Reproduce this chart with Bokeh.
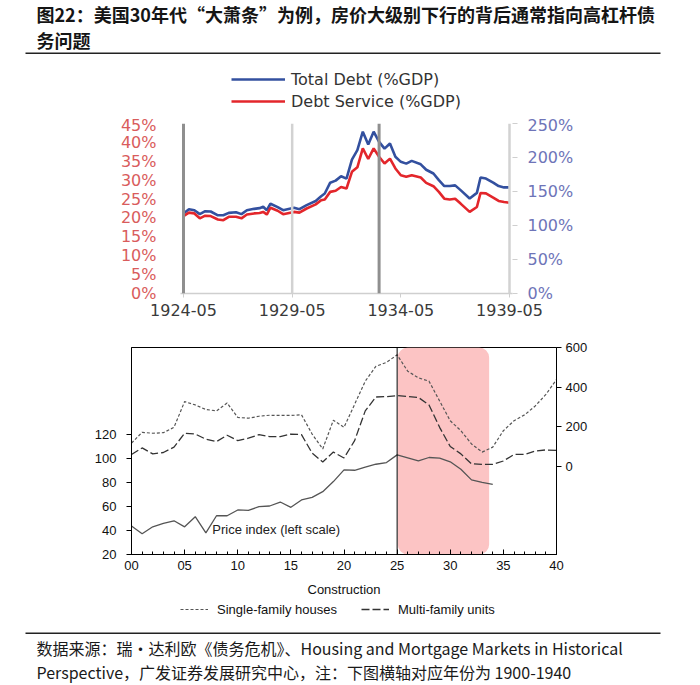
from bokeh.plotting import figure
from bokeh.layouts import column
from bokeh.models import (Range1d, LinearAxis, FixedTicker, Span, Legend, LegendItem,
                          Label, BoxAnnotation)
from bokeh.core.properties import value
from bokeh.embed import file_html
from bokeh.resources import INLINE

# ---------------- data ----------------
title_lines = ["图22：美国30年代“大萧条”为例，房价大级别下行的背后通常指向高杠杆债", "务问题"]
source_lines = ["数据来源：瑞·达利欧《债务危机》、Housing and Mortgage Markets in Historical",
                "Perspective，广发证券发展研究中心，注：下图横轴对应年份为 1900-1940"]

# top chart (Dalio): total debt (right axis, %GDP) and debt service (left axis, %GDP)
debt_dates = ["1924-05", "1924-08", "1924-11", "1925-02", "1925-05", "1925-08", "1925-12",
              "1926-03", "1926-06", "1926-10", "1927-01", "1927-04", "1927-08", "1927-11",
              "1928-01", "1928-03", "1928-05", "1928-09", "1928-12", "1929-06", "1929-09",
              "1930-01", "1930-06", "1930-09", "1930-11", "1931-02", "1931-05", "1931-08",
              "1931-11", "1932-02", "1932-05", "1932-08", "1932-11", "1933-02", "1933-05",
              "1933-08", "1933-11", "1934-02", "1934-05", "1934-08", "1934-11", "1935-04",
              "1935-07", "1935-11", "1936-02", "1936-05", "1936-08", "1936-11", "1937-02",
              "1937-07", "1937-11", "1938-01", "1938-04", "1938-08", "1938-11", "1939-02",
              "1939-05"]
total_debt = [117.6, 124, 122.5, 116.7, 121, 120.6, 115, 115, 118.6, 119.6, 116.7, 122.5,
              124.5, 125.5, 127.5, 122.5, 132, 127, 122.5, 126, 124, 130, 136, 143, 147,
              163, 166, 172.5, 169, 197, 211, 238, 219, 238, 223, 213, 220.6, 201, 193.6,
              191, 195, 190, 182, 176.5, 166.7, 158, 158, 159, 152, 139.7, 148, 170.6, 169,
              163, 158, 156, 156]
debt_service = [20.5, 21.4, 21.2, 19.9, 20.6, 20.5, 19.6, 19.4, 20.3, 20.3, 19.9, 20.9,
                21.2, 21.3, 21.6, 20.9, 22.7, 21.9, 21.0, 21.6, 21.4, 22.5, 23.6, 24.7, 24.9,
                26.9, 27.2, 28.2, 27.8, 32.2, 33.4, 38.4, 35.6, 38.4, 36.2, 34.4, 35.7, 33.1,
                31.3, 30.9, 31.3, 30.7, 29.3, 28.4, 26.9, 25.1, 24.9, 25.1, 23.8, 21.6, 22.9,
                26.6, 26.5, 25.4, 24.5, 24.2, 24.0]
top_series_names = ["Total Debt (%GDP)", "Debt Service (%GDP)"]
top_tick_dates = ["1924-05", "1929-05", "1934-05", "1939-05"]
top_left_ticks = [0, 5, 10, 15, 20, 25, 30, 35, 40, 45]
top_right_ticks = [0, 50, 100, 150, 200, 250]
dark_marker_dates = ["1924-05", "1933-05"]
light_marker_dates = ["1929-05", "1939-05"]

# bottom chart: housing 1900-1940
constr_years = list(range(1900, 1941))
single_family = [117, 172, 167, 170, 197, 327, 310, 287, 280, 320, 247, 243, 253, 258, 257,
                 257, 260, 163, 88, 233, 197, 313, 430, 505, 525, 563, 480, 447, 430, 330,
                 230, 180, 113, 72, 97, 180, 230, 260, 305, 363, 438]
multi_family = [60, 93, 63, 70, 97, 167, 163, 137, 125, 157, 130, 142, 160, 150, 150, 163,
                160, 67, 22, 72, 42, 130, 280, 350, 352, 357, 352, 348, 310, 197, 100, 63,
                13, 10, 10, 27, 60, 60, 77, 83, 80]
price_years = list(range(1900, 1935))
price_index = [43.6, 37.2, 43, 45.8, 48, 43, 51.4, 38, 52.2, 52.2, 57, 56.7, 59.7, 60.3,
               63.6, 59.2, 65.3, 67.5, 72.2, 80.6, 90.3, 90, 92.5, 95, 96.4, 102.8, 100.3,
               97.8, 100.6, 100, 97, 90.8, 82, 80, 78.3]
bottom_series_names = ["Single-family houses", "Multi-family units"]
bottom_year_ticks = [1900, 1905, 1910, 1915, 1920, 1925, 1930, 1935, 1940]
bottom_left_ticks = [20, 40, 60, 80, 100, 120]
bottom_right_ticks = [0, 200, 400, 600]
crash_start, crash_end = 1925.06, 1933.66

# styles
BLUE, RED = "#33509f", "#e3262b"
SF_STYLE = dict(line_color="#555555", line_width=1.2, line_dash="3 2")
MF_STYLE = dict(line_color="#333333", line_width=1.3, line_dash="8 3")
NAN = float("nan")


def month_index(s):
    y, m = s.split("-")
    return (int(y) - 1924) * 12 + (int(m) - 5)


W = 700
CJK = value("Noto Sans CJK SC")


def blank(h):
    f = figure(width=W, height=h, x_range=Range1d(0, W), y_range=Range1d(h, 0),
               output_backend="svg", toolbar_location=None, min_border=0,
               x_axis_location=None, y_axis_location=None)
    f.frame_align = False
    f.grid.visible = False
    f.outline_line_color = None
    return f


# ---------------- title ----------------
ft = blank(58)
ft.text(x=[36, 36], y=[13, 39], text=title_lines, text_font=CJK, text_font_size="18px",
        text_font_style="bold", text_baseline="middle", text_color="#151515")
ft.segment(x0=[25], y0=[52.7], x1=[660], y1=[52.7], line_width=1.5, line_color="#222222")

# ---------------- top legend strip ----------------
TOP_FONT = "DejaVu Sans"
fl1 = blank(57)
lb = fl1.line([NAN], [NAN], line_color=BLUE, line_width=2.6)
lr = fl1.line([NAN], [NAN], line_color=RED, line_width=2.6)
fl1.add_layout(Legend(items=[LegendItem(label=top_series_names[0], renderers=[lb]),
                             LegendItem(label=top_series_names[1], renderers=[lr])],
                      location=(231, 4), orientation="vertical",
                      glyph_width=54, glyph_height=20, label_height=20, label_standoff=6,
                      spacing=2, padding=0, margin=0,
                      label_text_font=TOP_FONT, label_text_font_size="16px",
                      label_text_color="#333333",
                      background_fill_alpha=0, border_line_alpha=0))

# ---------------- top chart ----------------
pt = figure(width=W, height=213, x_range=Range1d(-1.66, 181.66), y_range=Range1d(0, 45),
            output_backend="svg", toolbar_location=None,
            min_border_left=180, min_border_right=188, min_border_top=8, min_border_bottom=35,
            x_axis_location=None, y_axis_location=None)
pt.frame_align = False
pt.extra_y_ranges = {"right": Range1d(0, 250)}
pt.grid.visible = False
pt.outline_line_color = None

xm = [month_index(d) for d in debt_dates]
for d in dark_marker_dates:
    pt.add_layout(Span(location=month_index(d), dimension="height", line_color="#8f8f8f", line_width=3))
for d in light_marker_dates:
    pt.add_layout(Span(location=month_index(d), dimension="height", line_color="#d2d2d2", line_width=2.5))

pt.line(xm, total_debt, y_range_name="right", line_color=BLUE, line_width=2.6)
pt.line(xm, debt_service, line_color=RED, line_width=2.6)

ax_b = LinearAxis(ticker=FixedTicker(ticks=[month_index(d) for d in top_tick_dates]),
                  major_label_overrides={month_index(d): d for d in top_tick_dates})
ax_b.axis_line_color = "#cfcfcf"
ax_b.axis_line_width = 1.5
ax_b.major_tick_line_color = "#cfcfcf"
ax_b.major_tick_in = 0
ax_b.major_tick_out = 4
ax_b.minor_tick_line_color = None
ax_b.major_label_standoff = 6
ax_b.major_label_text_font = TOP_FONT
ax_b.major_label_text_font_size = "16px"
ax_b.major_label_text_color = "#3a3a3a"
pt.add_layout(ax_b, "below")

ax_l = LinearAxis(ticker=FixedTicker(ticks=top_left_ticks),
                  major_label_overrides={t: f"{t}%" for t in top_left_ticks})
ax_l.axis_line_color = None
ax_l.major_tick_line_color = None
ax_l.minor_tick_line_color = None
ax_l.major_label_standoff = 18
ax_l.major_label_text_font = TOP_FONT
ax_l.major_label_text_font_size = "16px"
ax_l.major_label_text_color = "#d95c5c"
pt.add_layout(ax_l, "left")

ax_r = LinearAxis(y_range_name="right", ticker=FixedTicker(ticks=top_right_ticks),
                  major_label_overrides={t: f"{t}%" for t in top_right_ticks})
ax_r.axis_line_color = None
ax_r.major_tick_line_color = "#cfcfcf"
ax_r.major_tick_in = 0
ax_r.major_tick_out = 5
ax_r.minor_tick_line_color = None
ax_r.major_label_standoff = 10
ax_r.major_label_text_font = TOP_FONT
ax_r.major_label_text_font_size = "16px"
ax_r.major_label_text_color = "#6e74b8"
pt.add_layout(ax_r, "right")

# ---------------- bottom chart ----------------
BF = "Liberation Sans"
pb = figure(width=W, height=271, x_range=Range1d(1900, 1940), y_range=Range1d(20, 192),
            output_backend="svg", toolbar_location=None,
            min_border_left=131, min_border_right=144, min_border_top=19, min_border_bottom=45,
            x_axis_location=None, y_axis_location=None)
pb.frame_align = False
pb.extra_y_ranges = {"right": Range1d(-445, 600)}
pb.grid.visible = False
pb.outline_line_color = "#000000"
pb.outline_line_width = 1

pb.add_layout(BoxAnnotation(left=crash_start, right=crash_end,
                            fill_color="#fcc4c4", fill_alpha=1.0, line_color=None,
                            border_radius=10, level="underlay"))
pb.add_layout(Span(location=1925, dimension="height", line_color="#000000", line_width=1))

pb.line(constr_years, single_family, y_range_name="right", **SF_STYLE)
pb.line(constr_years, multi_family, y_range_name="right", **MF_STYLE)
pb.line(price_years, price_index, line_color="#555555", line_width=1.3)

pb.add_layout(Label(x=1907.6, y=41, text="Price index (left scale)", text_font=BF,
                    text_font_size="13px", text_baseline="middle", text_color="#222222"))

bx = LinearAxis(ticker=FixedTicker(ticks=bottom_year_ticks, minor_ticks=constr_years),
                major_label_overrides={y: f"{y % 100:02d}" for y in bottom_year_ticks},
                axis_label="Construction")
bx.axis_line_color = "#000000"
bx.major_tick_in = 5
bx.major_tick_out = 0
bx.minor_tick_in = 3
bx.minor_tick_out = 0
bx.major_label_standoff = 6
bx.major_label_text_font = BF
bx.major_label_text_font_size = "13px"
bx.major_label_text_color = "#111111"
bx.axis_label_standoff = 9
bx.axis_label_text_font = BF
bx.axis_label_text_font_size = "13px"
bx.axis_label_text_font_style = "normal"
bx.axis_label_text_color = "#111111"
pb.add_layout(bx, "below")

bl = LinearAxis(ticker=FixedTicker(ticks=bottom_left_ticks))
bl.axis_line_color = "#000000"
bl.major_tick_in = 0
bl.major_tick_out = 5
bl.minor_tick_line_color = None
bl.major_label_standoff = 10
bl.major_label_text_font = BF
bl.major_label_text_font_size = "13px"
bl.major_label_text_color = "#111111"
pb.add_layout(bl, "left")

br = LinearAxis(y_range_name="right", ticker=FixedTicker(ticks=bottom_right_ticks))
br.axis_line_color = "#000000"
br.major_tick_in = 0
br.major_tick_out = 5
br.minor_tick_line_color = None
br.major_label_standoff = 4
br.major_label_text_font = BF
br.major_label_text_font_size = "13px"
br.major_label_text_color = "#111111"
pb.add_layout(br, "right")

# ---------------- bottom legend strip ----------------
fl2 = blank(23)
ls = fl2.line([NAN], [NAN], **SF_STYLE)
lm = fl2.line([NAN], [NAN], **MF_STYLE)
fl2.add_layout(Legend(items=[LegendItem(label=bottom_series_names[0], renderers=[ls]),
                             LegendItem(label=bottom_series_names[1], renderers=[lm])],
                      location=(180, 5), orientation="horizontal",
                      glyph_width=28, glyph_height=16, label_height=16, label_standoff=9,
                      spacing=24, padding=0, margin=0,
                      label_text_font=BF, label_text_font_size="13px",
                      label_text_color="#111111",
                      background_fill_alpha=0, border_line_alpha=0))

# ---------------- footer ----------------
ff = blank(63)
ff.segment(x0=[25], y0=[10.7], x1=[660], y1=[10.7], line_width=1.5, line_color="#222222")
ff.text(x=[36, 36], y=[25.3, 49.7], text=source_lines, text_font=CJK, text_font_size="16px",
        text_baseline="middle", text_color="#1a1a1a")

layout = column(ft, fl1, pt, pb, fl2, ff, spacing=0)
open("out.html", "w").write(file_html(layout, INLINE))
